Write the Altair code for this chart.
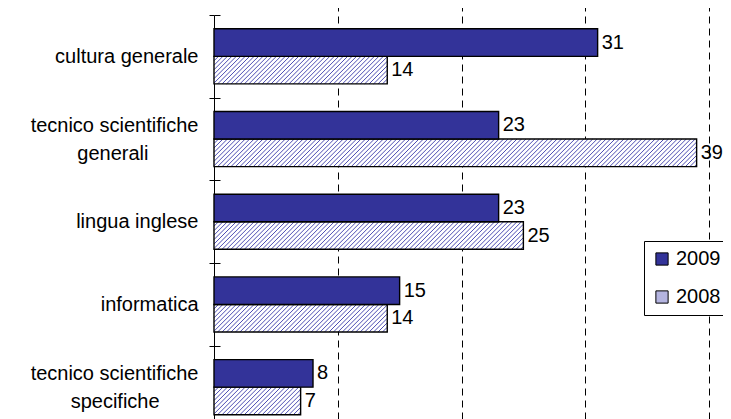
import json
import altair as alt
import pandas as pd

# ---------------- data ----------------
categories = [
    "cultura generale",
    "tecnico scientifiche generali",
    "lingua inglese",
    "informatica",
    "tecnico scientifiche specifiche",
]
years = ["2009", "2008"]
values_2009 = [31, 23, 23, 15, 8]
values_2008 = [14, 39, 25, 14, 7]

rows = []
for i, c in enumerate(categories):
    rows.append({"cat": c, "idx": i, "year": "2009", "value": values_2009[i]})
    rows.append({"cat": c, "idx": i, "year": "2008", "value": values_2008[i]})
df = pd.DataFrame(rows)

# ---------------- layout / style ----------------
FONT = "Liberation Sans, Arial, Helvetica, sans-serif"
W = 495
H_VIEW = 404
STEP = 82.7
Y_RANGE = STEP * len(categories)
XMAX = 40
BAR_A, BAR_B = 0.5, 5.0 / 6.0          # 2008 bar top / bottom inside a band
HATCH_RUN = (BAR_B - BAR_A) * STEP / (W / XMAX)   # 45 degree run, x units
HATCH_GAP = 0.36                         # hatch spacing, x units

# approximate Arial advance widths to centre the second line of 2-line labels
AW = {"a": 556, "c": 500, "e": 556, "f": 278, "g": 556, "h": 556, "i": 222,
      "l": 222, "n": 556, "o": 556, "p": 556, "r": 333, "s": 500, "t": 278,
      "u": 556, " ": 278}


def tw(s):
    return sum(AW.get(ch, 556) for ch in s)


def label_lines(c):
    words = c.split(" ")
    if len(words) <= 2:
        return [c]
    first = " ".join(words[:2])
    second = " ".join(words[2:])
    pad = round((tw(first) - tw(second)) / 2 / 278)
    return [first, second + "\u00a0" * pad + "\u200b"]


label_expr = ""
for c in categories:
    label_expr += f"datum.label == {json.dumps(c)} ? {json.dumps(label_lines(c), ensure_ascii=False)} : "
label_expr += "datum.label"

# ---------------- encodings ----------------
x_val = alt.X(
    "value:Q",
    scale=alt.Scale(domain=[0, XMAX], nice=False),
    axis=alt.Axis(grid=True, gridDash=[7, 5], gridColor="black", gridWidth=1,
                  values=[10, 20, 30, 40], labels=False, ticks=False,
                  domain=False, title=None),
)
y_scale = alt.Scale(range=[0, Y_RANGE], paddingInner=0, paddingOuter=0)
y_cat_axis = alt.Y(
    "cat:N",
    sort=categories,
    scale=y_scale,
    axis=alt.Axis(orient="left", title=None, domainColor="black", domainWidth=1,
                  tickColor="black", tickSize=5, tickBand="extent",
                  labelFont=FONT, labelFontSize=20, labelColor="black",
                  labelAlign="right", labelBaseline="middle",
                  labelLineHeight=28, labelPadding=11, labelLimit=400,
                  labelOffset={"condition": {"test": "indexof(datum.label, 'tecnico') == 0",
                                             "value": -14}, "value": 0},
                  labelExpr=label_expr, grid=False),
)
y_cat = alt.Y("cat:N", sort=categories, scale=y_scale, axis=None)
y_off = alt.YOffset(
    "year:N",
    sort=years,
    scale=alt.Scale(domain=years, paddingInner=0, paddingOuter=0.5),
)

base = alt.Chart(df)

bars_2008_bg = base.transform_filter("datum.year == '2008'").mark_bar(
    fill="white"
).encode(x=x_val, y=y_cat_axis, yOffset=y_off)

hatch = (
    base.transform_filter("datum.year == '2008'")
    .transform_calculate(ts=f"sequence({-HATCH_RUN}, datum.value, {HATCH_GAP})")
    .transform_flatten(["ts"])
    .transform_calculate(
        xs="max(datum.ts, 0)",
        xe=f"min(datum.ts + {HATCH_RUN}, datum.value)",
    )
    .transform_filter("datum.xe > datum.xs")
    .transform_calculate(
        ys=f"datum.idx + {BAR_B} - (datum.xs - datum.ts) / {HATCH_RUN} * {BAR_B - BAR_A}",
        ye=f"datum.idx + {BAR_B} - (datum.xe - datum.ts) / {HATCH_RUN} * {BAR_B - BAR_A}",
    )
    .mark_rule(color="#4d4db3", strokeWidth=1)
    .encode(
        x=alt.X("xs:Q", scale=alt.Scale(domain=[0, XMAX], nice=False)),
        x2="xe:Q",
        y=alt.Y(
            "ys:Q",
            scale=alt.Scale(domain=[0, len(categories)], range=[0, Y_RANGE],
                            nice=False, zero=False),
            axis=alt.Axis(orient="left", offset=-6, tickSize=6,
                          tickColor="black", values=list(range(len(categories) + 1)),
                          labels=False, domain=False, grid=False, title=None),
        ),
        y2="ye:Q",
    )
)

bars_2008_outline = base.transform_filter("datum.year == '2008'").mark_bar(
    fillOpacity=0, stroke="black", strokeWidth=1.4
).encode(x=x_val, y=y_cat, yOffset=y_off)

bars_2009 = base.transform_filter("datum.year == '2009'").mark_bar(
    stroke="black", strokeWidth=1.4
).encode(
    x=x_val,
    y=y_cat,
    yOffset=y_off,
    color=alt.Color(
        "year:N",
        scale=alt.Scale(domain=years, range=["#333399", "#b4b4e0"]),
        legend=alt.Legend(
            title=None, orient="none", legendX=430, legendY=226,
            fillColor="white", strokeColor="black", padding=8,
            rowPadding=18, labelOffset=4, labelFont=FONT, labelFontSize=20,
            labelColor="black", symbolType="square", symbolSize=150,
            symbolStrokeColor="black", symbolStrokeWidth=1, symbolOpacity=1,
        ),
    ),
)

labels = base.mark_text(
    align="left", baseline="middle", dx=4, fontSize=20, font=FONT, color="black"
).encode(x=x_val, y=y_cat, yOffset=y_off, text="value:Q")

chart = (
    alt.layer(bars_2008_bg, hatch, bars_2008_outline, bars_2009, labels)
    .resolve_scale(y="independent")
    .properties(
        width=W,
        height=H_VIEW,
        autosize=alt.AutoSizeParams(type="none"),
        padding={"left": 206, "top": 7, "right": 14, "bottom": 0},
        background="white",
    )
    .configure_view(stroke=None)
)

chart.save("out.html", embed_options={"renderer": "svg", "actions": False})
